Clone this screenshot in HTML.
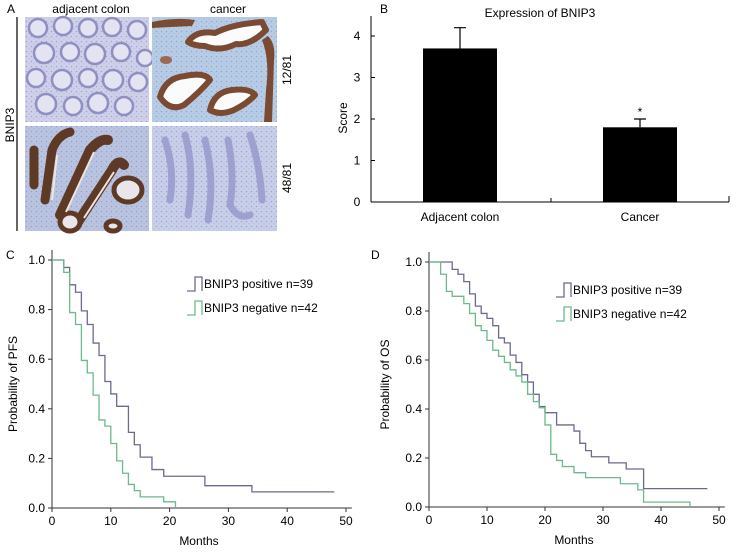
<!DOCTYPE html>
<html><head><meta charset="utf-8"><style>
html,body{margin:0;padding:0;background:#fff;}
svg{display:block;font-family:"Liberation Sans",Arial,sans-serif;}
</style></head><body>
<svg width="736" height="556" viewBox="0 0 736 556" xmlns="http://www.w3.org/2000/svg">
<defs>
<pattern id="dots" width="5" height="5" patternUnits="userSpaceOnUse"><circle cx="1.5" cy="1.5" r="0.8" fill="#7d7fb8" opacity="0.55"/><circle cx="4" cy="3.8" r="0.6" fill="#8e90c4" opacity="0.5"/></pattern>
</defs>
<!-- Panel A -->
<g>
<text x="7" y="13" font-size="12">A</text>
<text x="91" y="13" font-size="12" text-anchor="middle">adjacent colon</text>
<text x="228" y="13" font-size="12" text-anchor="middle">cancer</text>
<line x1="17" y1="17" x2="17" y2="231" stroke="#000" stroke-width="1.2"/>
<text transform="translate(14,125) rotate(-90)" font-size="12" text-anchor="middle">BNIP3</text>
<!-- top-left: normal colon, crypts -->
<g>
<rect x="25" y="17" width="124" height="105" fill="#cfd0ea"/>
<rect x="25" y="17" width="124" height="105" fill="url(#dots)"/>
<g fill="#e4e3f2" stroke="#8f8fc2" stroke-width="2.5">
<circle cx="38" cy="28" r="9"/><circle cx="63" cy="26" r="9"/><circle cx="88" cy="28" r="9"/><circle cx="112" cy="27" r="9"/><circle cx="137" cy="30" r="9"/>
<circle cx="44" cy="53" r="10"/><circle cx="70" cy="52" r="9"/><circle cx="95" cy="54" r="10"/><circle cx="121" cy="52" r="9"/><circle cx="145" cy="58" r="8"/>
<circle cx="36" cy="78" r="9"/><circle cx="62" cy="80" r="10"/><circle cx="88" cy="78" r="9"/><circle cx="113" cy="80" r="10"/><circle cx="138" cy="82" r="9"/>
<circle cx="46" cy="104" r="10"/><circle cx="73" cy="106" r="9"/><circle cx="98" cy="103" r="10"/><circle cx="124" cy="106" r="9"/>
</g>
</g>
<!-- top-right: cancer strongly stained -->
<g>
<rect x="152" y="17" width="125" height="105" fill="#b7cde6"/>
<rect x="152" y="17" width="125" height="105" fill="url(#dots)"/>
<g fill="#fbfbfb" stroke="#7a4a33" stroke-width="6" stroke-linejoin="round">
<path d="M188,42 Q196,30 215,33 Q232,24 262,22 L266,30 Q250,46 236,44 Q220,52 205,46 Q194,46 188,42Z"/>
<path d="M160,97 Q165,78 185,76 Q205,72 210,80 Q200,92 184,105 Q170,112 160,97Z"/>
<path d="M210,110 Q214,92 232,90 Q250,88 255,95 Q248,103 234,110 Q220,116 210,110Z"/>
</g>
<path d="M152,22 Q175,17 195,20 L192,26 Q170,27 152,28Z" fill="#7a4a33"/>
<path d="M262,40 Q270,60 266,90 L264,122 L272,122 L274,60 Q276,44 268,36Z" fill="#7a4a33"/>
<ellipse cx="166" cy="60" rx="6" ry="4" fill="#9a6a55"/>
</g>
<!-- bottom-left: adjacent colon strongly stained -->
<g>
<rect x="25" y="126" width="124" height="105" fill="#b9c4e0"/>
<rect x="25" y="126" width="124" height="105" fill="url(#dots)"/>
<g fill="#e9e5ea" stroke="#5e3a26" stroke-width="5" stroke-linecap="round">
<path d="M34,150 L34,185" stroke-width="9"/>
<path d="M45,200 L52,150 Q58,135 70,132" fill="none" stroke-width="9"/>
<path d="M60,215 L90,150 Q100,138 108,140" fill="none" stroke-width="10"/>
<path d="M78,222 L112,170 Q118,158 124,165" fill="none" stroke-width="10"/>
<ellipse cx="128" cy="190" rx="14" ry="12"/>
<ellipse cx="70" cy="222" rx="10" ry="9"/>
<ellipse cx="113" cy="226" rx="7" ry="5"/>
</g>
<g stroke="#f0e6e0" stroke-width="2" fill="none">
<path d="M52,200 L57,155"/><path d="M66,212 L94,152"/><path d="M84,218 L114,172"/>
</g>
</g>
<!-- bottom-right: cancer weak -->
<g>
<rect x="152" y="126" width="125" height="105" fill="#c8cfe9"/>
<rect x="152" y="126" width="125" height="105" fill="url(#dots)"/>
<g fill="none" stroke="#9597cb" stroke-width="7" stroke-linecap="round" opacity="0.8">
<path d="M165,140 Q175,170 170,200"/><path d="M185,135 Q195,170 188,215"/><path d="M205,140 Q215,180 208,220"/><path d="M228,140 Q235,175 230,205 Q238,220 250,215"/><path d="M250,135 Q260,165 262,200"/>
</g>
</g>
<text transform="translate(291,70) rotate(-90)" font-size="12" text-anchor="middle">12/81</text>
<text transform="translate(291,178) rotate(-90)" font-size="12" text-anchor="middle">48/81</text>
</g>

<!-- Panel B -->
<g id="panelB">
<text x="380" y="13" font-size="12">B</text>
<text x="540" y="17" font-size="12" text-anchor="middle">Expression of BNIP3</text>
<text transform="translate(347,118) rotate(-90)" font-size="12" text-anchor="middle">Score</text>
<text x="550" y="221" font-size="12" text-anchor="middle" visibility="hidden"></text>
</g>

<!-- Panel C -->
<g id="panelC">
<text x="6" y="259" font-size="12">C</text>
</g>
<!-- Panel D -->
<g id="panelD">
<text x="371" y="259" font-size="12">D</text>
</g>
</svg>
<script>
const NS='http://www.w3.org/2000/svg';
// ---- Panel B data ----
const barCategories=['Adjacent colon','Cancer'];
const barValues=[3.7,1.8];
const barErrors=[0.5,0.2];
const barTicks=[0,1,2,3,4];
// ---- Panel C data ----
const pfsPosMonths=[0,2,3,4,5,6,7,8,9,10,11,13,14,15,17,19,26,34,48];
const pfsPosSurv=[1,0.97,0.9,0.87,0.795,0.74,0.665,0.615,0.51,0.46,0.41,0.305,0.255,0.205,0.155,0.128,0.09,0.065,0.065];
const pfsNegMonths=[0,2,3,4,5,6,7,8,9,10,11,12,13,14,15,19,21];
const pfsNegSurv=[1,0.95,0.788,0.74,0.595,0.545,0.455,0.355,0.33,0.26,0.19,0.14,0.095,0.07,0.045,0.025,0];
// ---- Panel D data ----
const osPosMonths=[0,4,5,6,7,8,9,10,11,12,13,14,15,16,17,18,19,20,22,25,26,27,28,31,34,37,48];
const osPosSurv=[1,0.97,0.95,0.92,0.87,0.82,0.79,0.77,0.74,0.69,0.67,0.62,0.59,0.54,0.51,0.46,0.41,0.385,0.335,0.31,0.26,0.23,0.205,0.18,0.155,0.075,0.075];
const osNegMonths=[0,2,3,4,6,7,8,9,10,11,12,13,14,15,16,17,18,19,20,21,22,23,25,27,33,36,37,45];
const osNegSurv=[1,0.95,0.88,0.86,0.83,0.79,0.74,0.72,0.68,0.64,0.615,0.59,0.56,0.535,0.51,0.46,0.43,0.405,0.335,0.215,0.19,0.165,0.14,0.12,0.095,0.07,0.02,0];
const xTicks=[0,10,20,30,40,50];
const yTicks=[0,0.2,0.4,0.6,0.8,1.0];
const legendLabels=['BNIP3 positive n=39','BNIP3 negative n=42'];

function mk(tag,attrs,parent,txt){const e=document.createElementNS(NS,tag);for(const k in attrs)e.setAttribute(k,attrs[k]);if(txt!==undefined)e.textContent=txt;parent.appendChild(e);return e;}

// Panel B
(function(){
 const g=document.getElementById('panelB');
 const y=v=>202-v*41.5;
 const axisX=371;
 let ax=mk('line',{x1:axisX,y1:16,x2:axisX,y2:202,stroke:'#000','stroke-width':1},g);
 
 let bx=mk('line',{x1:axisX,y1:202,x2:729,y2:202,stroke:'#000','stroke-width':1},g);
 
 mk('line',{x1:551,y1:202,x2:551,y2:198,stroke:'#000'},g);
 mk('line',{x1:729,y1:202,x2:729,y2:196,stroke:'#000'},g);
 barTicks.forEach(t=>{
  if(t>0)mk('line',{x1:axisX,y1:y(t),x2:axisX+4,y2:y(t),stroke:'#000'},g);
  const l=mk('text',{x:357,y:y(t)+4,'font-size':12,'text-anchor':'middle'},g,String(t));
  
 });
 const centers=[460,640],bw=74;
 barCategories.forEach((c,i)=>{
  const cx=centers[i];
  const r=mk('rect',{x:cx-bw/2,y:y(barValues[i]),width:bw,height:202-y(barValues[i]),fill:'#000'},g);
  
  const top=y(barValues[i]+barErrors[i]);
  const e=mk('path',{d:`M${cx},${y(barValues[i])}V${top}M${cx-6},${top}H${cx+6}`,stroke:'#000','stroke-width':1.2,fill:'none'},g);
  
  const t=mk('text',{x:cx,y:221,'font-size':12,'text-anchor':'middle'},g,c);
  
 });
 const s=mk('text',{x:640,y:y(barValues[1]+barErrors[1])-3,'font-size':12,'text-anchor':'middle'},g,'*');
 
})();

function km(gid,x0,x50,y0,y1,pos,neg,ytitle,ytitleX,legX){
 const g=document.getElementById(gid);
 const X=m=>x0+(x50-x0)*m/50, Y=v=>y0-(y0-y1)*v;
 const ya=mk('line',{x1:x0,y1:y1-10,x2:x0,y2:y0,stroke:'#333','stroke-width':1},g);
 
 const xa=mk('line',{x1:x0-4,y1:y0,x2:X(51),y2:y0,stroke:'#333','stroke-width':1},g);
 
 yTicks.forEach(t=>{
  mk('line',{x1:x0-4,y1:Y(t),x2:x0,y2:Y(t),stroke:'#333'},g);
  const l=mk('text',{x:x0-7,y:Y(t)+4,'font-size':12,'text-anchor':'end'},g,t.toFixed(1));
  
 });
 xTicks.forEach(t=>{
  mk('line',{x1:X(t),y1:y0,x2:X(t),y2:y0+4,stroke:'#333'},g);
  const l=mk('text',{x:X(t),y:y0+17,'font-size':12,'text-anchor':'middle'},g,String(t));
  
 });
 const xt=mk('text',{x:X(25),y:y0+37,'font-size':12,'text-anchor':'middle'},g,'Months');
 
 const yt=mk('text',{transform:`translate(${ytitleX},${(y0+y1)/2}) rotate(-90)`,'font-size':12,'text-anchor':'middle'},g,ytitle);
 
 const series=[[pos,'#6b6a8f','positive'],[neg,'#6cba8a','negative']];
 series.forEach(([d,col,nm])=>{
  const [ms,vs]=d;let p=`M${X(ms[0])},${Y(vs[0])}`;
  for(let i=1;i<ms.length;i++){p+=`H${X(ms[i])}V${Y(vs[i])}`;}
  const path=mk('path',{d:p,stroke:col,'stroke-width':1.3,fill:'none'},g);
  
 });
 legendLabels.forEach((lab,i)=>{
  const ly=(gid==='panelC'?284:290)+i*24, col=series[i][1];
  const sym=mk('path',{d:`M${legX},${ly+7}H${legX+8}V${ly-7}H${legX+15}V${ly+7}`,stroke:col,'stroke-width':1.3,fill:'none'},g);
  
  const t=mk('text',{x:legX+17,y:ly+4,'font-size':12},g,lab);
  
 });
}
km('panelC',52,346,508,260,[pfsPosMonths,pfsPosSurv],[pfsNegMonths,pfsNegSurv],'Probability of PFS',17,187);
km('panelD',429,719,507,262,[osPosMonths,osPosSurv],[osNegMonths,osNegSurv],'Probability of OS',389,556);
</script>
</body></html>
